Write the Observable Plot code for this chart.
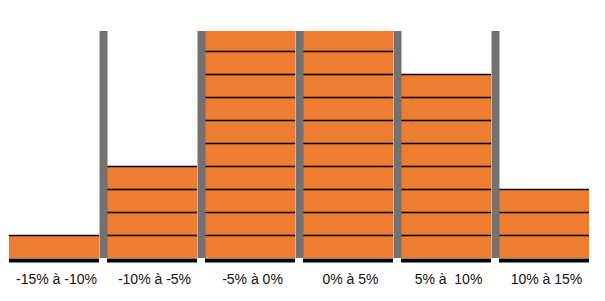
<!DOCTYPE html>
<html><head><meta charset="utf-8">
<script src="https://cdn.jsdelivr.net/npm/d3@7"></script>
<script src="https://cdn.jsdelivr.net/npm/@observablehq/plot@0.6"></script>
<style>body{margin:0;background:#fff;}</style>
</head><body><div id="chart"></div>
<script>
const labels = ["-15% à -10%", "-10% à -5%", "-5% à 0%", "0% à 5%", "5% à\u00a0 10%", "10% à 15%"];
const lower = [-15, -10, -5, 0, 5, 10];
const counts = [1, 4, 10, 10, 8, 3];
const separators = [-10, -5, 0, 5, 10];
const binWidth = 5;
const yMax = 9.87;

const bins = labels.map((l, i) => ({label: l, x1: lower[i], x2: lower[i] + binWidth, xc: lower[i] + binWidth / 2, n: counts[i]}));
const blocks = bins.flatMap(b => d3.range(b.n).map(k => ({x1: b.x1, x2: b.x2, y1: k, y2: k + 1})));

const chart = Plot.plot({
  width: 605, height: 301,
  marginLeft: 9, marginRight: 8, marginTop: 31, marginBottom: 43,
  x: {domain: [-15, 15], axis: null},
  y: {domain: [0, yMax], axis: null},
  style: {fontFamily: "Liberation Sans, Arial, sans-serif", background: "#fff"},
  marks: [
    Plot.rectY(blocks, {x1: "x1", x2: "x2", y1: "y1", y2: "y2", fill: "#ED7D31", insetRight: 8, insetLeft: 0, clip: true}),
    Plot.ruleY(blocks, {x1: "x1", x2: "x2", y: "y2", stroke: "#000", strokeWidth: 1.3, insetRight: 8, clip: true}),
    Plot.ruleX(separators, {x: d => d, y1: 0, y2: yMax, stroke: "#767171", strokeWidth: 8, dx: -4}),
    Plot.ruleY(bins, {x1: "x1", x2: "x2", y: 0, stroke: "#000", strokeWidth: 4, dy: 2, insetRight: 8}),
    Plot.text(bins, {x: "xc", y: 0, text: "label", dy: 21, dx: -2, fontSize: 14, fill: "#111"})
  ]
});
document.getElementById("chart").append(chart);
</script>
</body></html>
